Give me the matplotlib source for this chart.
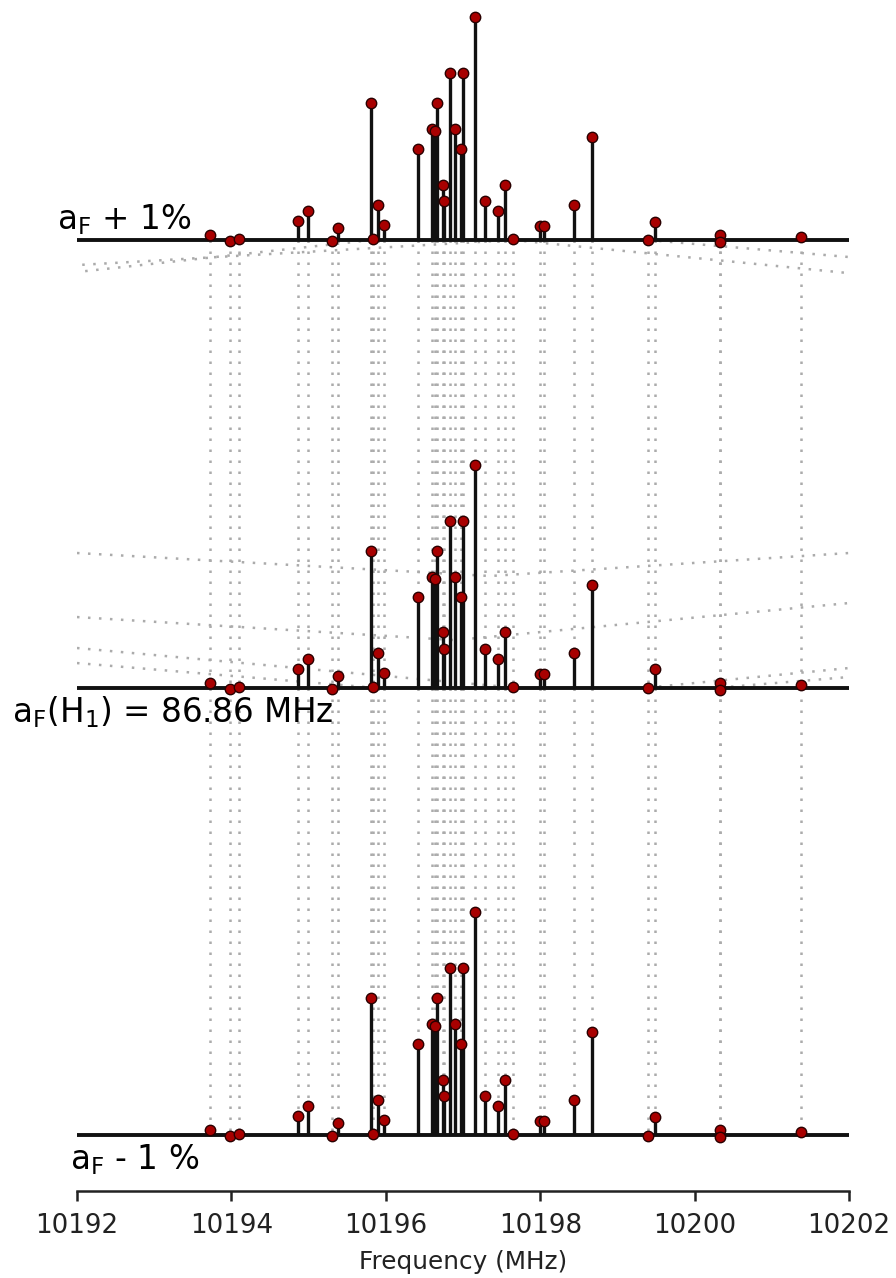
import numpy as np
import matplotlib
matplotlib.use("Agg")
import matplotlib.pyplot as plt

# ---- line positions (MHz) and relative intensities (tallest = 1) ----
freqs = [10193.723, 10193.982, 10194.102, 10194.867, 10194.996, 10195.307,
         10195.385, 10195.802, 10195.834, 10195.905, 10195.977, 10196.421,
         10196.598, 10196.637, 10196.657, 10196.745, 10196.754, 10196.838,
         10196.896, 10196.974, 10197.000, 10197.153, 10197.282, 10197.447,
         10197.538, 10197.648, 10197.997, 10198.043, 10198.444, 10198.675,
         10199.400, 10199.487, 10200.329, 10200.335, 10201.374]
intens = [0.022, -0.005, 0.004, 0.085, 0.130, -0.005,
          0.054, 0.614, 0.004, 0.157, 0.067, 0.408,
          0.498, 0.489, 0.614, 0.247, 0.175, 0.749,
          0.498, 0.408, 0.749, 1.000, 0.175, 0.130,
          0.247, 0.004, 0.063, 0.063, 0.157, 0.462,
          -0.002, 0.081, 0.022, -0.009, 0.013]

# spectra: a_F +1 %, a_F, a_F -1 %  (stacked levels)
levels = [2.0, 1.0, 0.0]
level_labels = [r"a$_\mathregular{F}$ + 1%",
                r"a$_\mathregular{F}$(H$_\mathregular{1}$) = 86.86 MHz",
                r"a$_\mathregular{F}$ - 1 %"]
tick_vals = [10192, 10194, 10196, 10198, 10200, 10202]

# trajectories of lines that move a lot (freq, level)
traj_T1 = [(10197.648, 2.0), (10192.0, 1.944)]
traj_T2 = [(10195.821, 2.0), (10192.0, 1.9285)]
traj_T3 = [(10199.396, 2.0), (10202.0, 1.962)]
traj_T4 = [(10197.648, 2.0), (10202.0, 1.926)]
traj_L1 = [(10192.0, 1.3006), (10197.350, 1.2492), (10202.0, 1.3006)]
traj_L2 = [(10192.0, 1.1575), (10196.896, 1.106), (10202.0, 1.1888)]
traj_L3 = [(10192.0, 1.0883), (10197.648, 1.0)]
traj_L4 = [(10192.0, 1.0547), (10195.821, 1.0)]
traj_R3 = [(10199.396, 1.0), (10202.0, 1.0436)]
traj_R4 = [(10200.329, 1.0), (10202.0, 1.0235)]
trajs = [traj_T1, traj_T2, traj_T3, traj_T4, traj_L1, traj_L2,
         traj_L3, traj_L4, traj_R3, traj_R4]

SCALE = 0.498
DOT = dict(color="#ababab", lw=1.8, ls=(0, (1, 3.4)), zorder=1)

fig = plt.figure(figsize=(8.96, 12.78), dpi=100)
ax = fig.add_axes([77 / 896, 87 / 1278, 772 / 896, 1181 / 1278])
ax.set_xlim(10192, 10202)
ax.set_ylim(-0.125, 2.514)

f = np.array(freqs)
h = np.array(intens) * SCALE

# connecting dotted lines between spectra
for upper, lower in zip(levels[:-1], levels[1:]):
    for fi in f:
        ax.plot([fi, fi], [upper, lower], **DOT)
for tr in trajs:
    xs, ys = zip(*tr)
    ax.plot(xs, ys, **DOT)

for lev in levels:
    ax.hlines(lev, 10192, 10202, color="#111111", lw=2.8, zorder=3)
    ax.vlines(f, lev, lev + h, color="#111111", lw=2.4, zorder=3)
    ax.plot(f, lev + h, "o", ms=7.5, mfc="#a80000", mec="#2a0000",
            mew=1.0, zorder=4)

ax.text(10191.74, 2.0447, level_labels[0], fontsize=23.5, va="center", ha="left")
ax.text(10191.158, 0.945, level_labels[1], fontsize=23.5, va="center", ha="left")
ax.text(10191.909, -0.0559, level_labels[2], fontsize=23.5, va="center", ha="left")

for s in ["left", "right", "top"]:
    ax.spines[s].set_visible(False)
ax.spines["bottom"].set_linewidth(1.8)
ax.spines["bottom"].set_color("#222222")
ax.set_yticks([])
ax.set_xticks(tick_vals)
ax.set_xticklabels([str(t) for t in tick_vals])
ax.tick_params(axis="x", length=7, width=1.8, labelsize=18.8, pad=9,
               color="#222222", labelcolor="#222222")
ax.set_xlabel("Frequency (MHz)", fontsize=17.8, labelpad=8, color="#222222")
ax.patch.set_alpha(0)

fig.savefig("out.png", dpi=100)
